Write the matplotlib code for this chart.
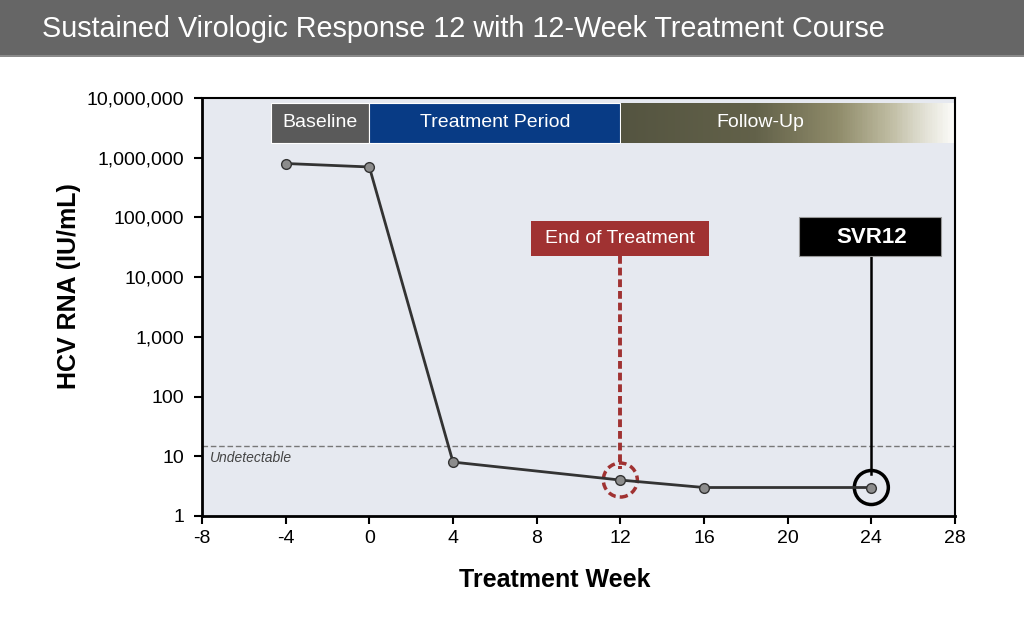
import matplotlib
matplotlib.use("Agg")
import matplotlib.pyplot as plt
import numpy as np
from matplotlib.patches import Rectangle
from matplotlib.colors import LinearSegmentedColormap

plt.rcParams['font.family'] = ['Liberation Sans', 'DejaVu Sans']

# Data
weeks = [-4, 0, 4, 12, 16, 24]
hcv_rna = [800000, 700000, 8, 4, 3, 3]
lloq = 15
xticks = [-8, -4, 0, 4, 8, 12, 16, 20, 24, 28]
yticks = [1, 10, 100, 1000, 10000, 100000, 1000000, 10000000]
ytick_labels = ["1", "10", "100", "1,000", "10,000", "100,000", "1,000,000", "10,000,000"]
phases = [("Baseline", -4.7, 0), ("Treatment Period", 0, 12), ("Follow-Up", 12, 28)]
eot_week, eot_value = 12, 4
svr_week, svr_value = 24, 3

fig = plt.figure(figsize=(10.24, 6.2), dpi=100)
fig.patch.set_facecolor('white')

# Title bar
fig.patches.append(Rectangle((0, 1 - 55/620), 1, 55/620, transform=fig.transFigure,
                             facecolor='#666666', edgecolor='none', zorder=0))
fig.patches.append(Rectangle((0, 1 - 57/620), 1, 2/620, transform=fig.transFigure,
                             facecolor='#8a8a8a', edgecolor='none', zorder=0))
fig.text(42/1024, 1 - 29/620, "Sustained Virologic Response 12 with 12-Week Treatment Course",
         color='white', fontsize=20.7, va='center', ha='left')

ax = fig.add_axes([202/1024, 104/620, 753/1024, 418/620])
ax.set_facecolor('#e6e9f0')
ax.set_yscale('log')
ax.set_xlim(-8, 28)
ax.set_ylim(1, 1e7)
ax.set_xticks(xticks)
ax.set_xticklabels([str(t) for t in xticks])
ax.set_yticks(yticks)
ax.set_yticklabels(ytick_labels)
ax.yaxis.set_minor_locator(matplotlib.ticker.NullLocator())
ax.tick_params(axis='both', labelsize=14, direction='out', length=6, width=1.5, color='black')
ax.tick_params(axis='x', pad=4)
ax.tick_params(axis='y', pad=7)
for s in ['left', 'bottom']:
    ax.spines[s].set_linewidth(2)
for s in ['top', 'right']:
    ax.spines[s].set_linewidth(1.5)

ax.set_xlabel("Treatment Week", fontsize=18, fontweight='bold')
ax.set_ylabel("HCV RNA (IU/mL)", fontsize=18, fontweight='bold')
ax.xaxis.set_label_coords(0.469, -0.125)
ax.yaxis.set_label_coords(-0.161, 0.55)

# Phase bars
ylo, yhi = 10**6.25, 10**6.92
colors = {"Baseline": "#5a5a5a", "Treatment Period": "#083b85"}
for name, x0, x1 in phases:
    if name in colors:
        ax.add_patch(Rectangle((x0, ylo), x1 - x0, yhi - ylo, facecolor=colors[name],
                               edgecolor='white', linewidth=0.8, zorder=2))
        ax.text((x0 + x1) / 2, 10**6.585, name, color='white', fontsize=14,
                ha='center', va='center', zorder=3)
    else:
        cmap = LinearSegmentedColormap.from_list('fu', [(0, '#545440'), (0.4, '#626149'),
                                                        (0.65, '#8f8b6a'), (0.8, '#bcb99e'),
                                                        (0.92, '#e4e3d8'), (1.0, '#fbfbf8')])
        n = 200
        edges = np.linspace(x0 + 0.05, x1, n + 1)
        for i in range(n):
            ax.add_patch(Rectangle((edges[i], ylo), edges[i+1] - edges[i] + 0.01, yhi - ylo,
                                   facecolor=cmap(i / (n - 1)), edgecolor='none', zorder=2))
        ax.text(18.7, 10**6.585, name, color='white', fontsize=14,
                ha='center', va='center', zorder=3)

# Undetectable line
ax.axhline(lloq, color='#777777', linestyle='--', linewidth=1, dashes=(4, 2), zorder=2)
ax.text(-7.6, 9.2, "Undetectable", fontsize=10, style='italic', color='#444444',
        ha='left', va='center', zorder=3)

# End of treatment
red = '#a03232'
ax.plot([eot_week, eot_week], [10**4.355, eot_value * 1.55], color=red, linewidth=2.8,
        linestyle=(0, (2.0, 1.0)), zorder=3)
ax.scatter([eot_week], [eot_value], s=(34*0.72)**2, facecolors='none', edgecolors=red,
           linewidths=2.5, linestyles=(0, (2.2, 1.2)), zorder=5)
ax.add_patch(Rectangle((7.75, 10**4.355), 8.5, 10**4.94 - 10**4.355, facecolor=red,
                       edgecolor='none', zorder=3))
ax.text(12, 10**4.64, "End of Treatment", color='white', fontsize=14, ha='center',
        va='center', zorder=4)

# SVR12
ax.plot([svr_week, svr_week], [10**4.355, svr_value * 1.7], color='black', linewidth=1.8, zorder=3)
ax.scatter([svr_week], [svr_value], s=(34*0.72)**2, facecolors='none', edgecolors='black',
           linewidths=2.5, zorder=5)
ax.add_patch(Rectangle((20.55, 10**4.355), 6.8, 10**5.0 - 10**4.355, facecolor='black',
                       edgecolor='#999999', linewidth=0.8, zorder=3))
ax.text(svr_week, 10**4.67, "SVR12", color='white', fontsize=16, fontweight='bold',
        ha='center', va='center', zorder=4)

# Data line
ax.plot(weeks, hcv_rna, color='#333333', linewidth=2, marker='o', markersize=7,
        markerfacecolor='#8c8c8c', markeredgecolor='#333333', markeredgewidth=1, zorder=6)

fig.savefig("out.png", dpi=100, facecolor='white')
